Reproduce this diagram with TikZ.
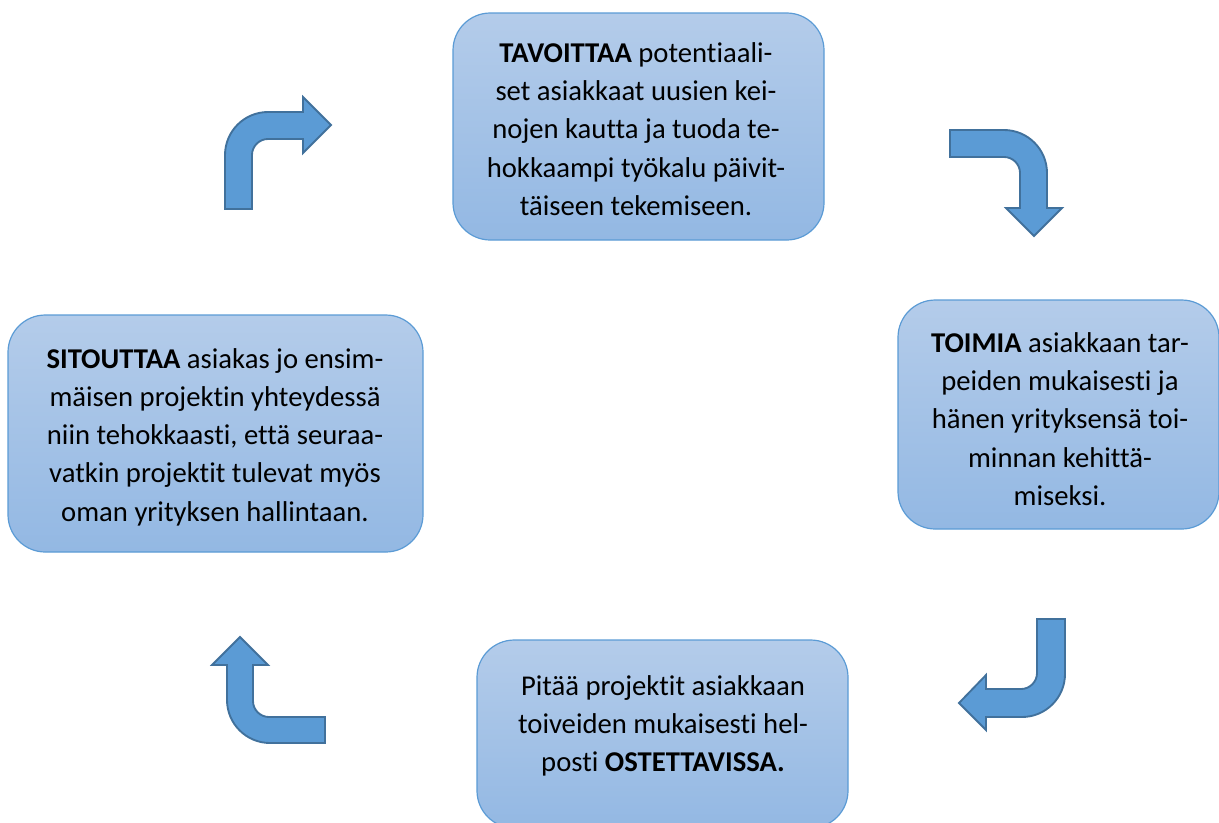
\documentclass[tikz,border=0pt]{standalone}
\usepackage{fontspec}
\setmainfont{Carlito}[Ligatures=NoCommon]
\definecolor{arrowfill}{RGB}{91,155,213}
\definecolor{arrowline}{RGB}{65,113,156}
\definecolor{boxline}{RGB}{91,155,213}
\definecolor{boxtop}{RGB}{180,204,234}
\definecolor{boxbottom}{RGB}{147,184,227}
\tikzset{
  stepbox/.style={draw=boxline, line width=0.9pt, rounded corners=28pt,
    top color=boxtop, bottom color=boxbottom, inner sep=0pt},
  boxtext/.style={inner sep=0pt, align=center, text=black,
    font=\fontsize{21.5pt}{28.7pt}\selectfont},
  bentarrow/.style={fill=arrowfill, draw=arrowline, line width=1.4pt, line join=miter}
}
\begin{document}
\begin{tikzpicture}[x=0.75pt,y=-0.75pt]
\useasboundingbox (0,0) rectangle (1219,822);

% boxes
\node[stepbox, minimum width=278.25pt, minimum height=170.25pt] (top) at (638.5,126.5) {};
\node[stepbox, minimum width=240.75pt, minimum height=171.75pt] (right) at (1058.5,414.5) {};
\node[stepbox, minimum width=278.25pt, minimum height=141pt] (bottom) at (662.5,734) {};
\node[stepbox, minimum width=311.25pt, minimum height=177.75pt] (left) at (215.5,433.5) {};

% texts
\node[boxtext] (toptxt) at (636,129) {\textbf{TAVOITTAA} potentiaali-\\set asiakkaat uusien kei-\\nojen kautta ja tuoda te-\\hokkaampi työkalu päivit-\\täiseen tekemiseen.};
\node[boxtext] (righttxt) at (1060,419) {\textbf{TOIMIA} asiakkaan tar-\\peiden mukaisesti ja\\hänen yrityksensä toi-\\minnan kehittä-\\miseksi.};
\node[boxtext] (bottomtxt) at (663,726) {Pitää projektit asiakkaan\\toiveiden mukaisesti hel-\\posti \textbf{OSTETTAVISSA.}};
\node[boxtext] (lefttxt) at (215,437) {\textbf{SITOUTTAA} asiakas jo ensim-\\mäisen projektin yhteydessä\\niin tehokkaasti, että seuraa-\\vatkin projektit tulevat myös\\oman yrityksen hallintaan.};

% arrow top-left (up, then right)
\draw[bentarrow] (225,209) -- (225,155)
  .. controls (225,131.3) and (244.3,112) .. (268,112)
  -- (303,112) -- (303,97) -- (331,125) -- (303,153) -- (303,139)
  -- (268,139) .. controls (259.2,139) and (252,146.2) .. (252,155)
  -- (252,209) -- cycle;

% arrow top-right (right, then down)
\draw[bentarrow] (950,130) -- (1004,130)
  .. controls (1027.7,130) and (1047,149.3) .. (1047,173)
  -- (1047,208) -- (1062,208) -- (1034,236) -- (1006,208) -- (1020,208)
  -- (1020,173) .. controls (1020,164.2) and (1012.8,157) .. (1004,157)
  -- (950,157) -- cycle;

% arrow bottom-right (down, then left)
\draw[bentarrow] (1037,619) -- (1065,619) -- (1065,674)
  .. controls (1065,697.7) and (1045.7,717) .. (1022,717)
  -- (986,717) -- (986,730) -- (959,703) -- (986,675) -- (986,689)
  -- (1021,689) .. controls (1029.8,689) and (1037,681.8) .. (1037,673)
  -- cycle;

% arrow bottom-left (left, then up)
\draw[bentarrow] (325,743) -- (270,743)
  .. controls (246.3,743) and (227,723.7) .. (227,700)
  -- (227,665) -- (212,665) -- (240,637) -- (268,665) -- (253,665)
  -- (253,701) .. controls (253,709.8) and (260.2,717) .. (269,717)
  -- (325,717) -- cycle;
\end{tikzpicture}
\end{document}
